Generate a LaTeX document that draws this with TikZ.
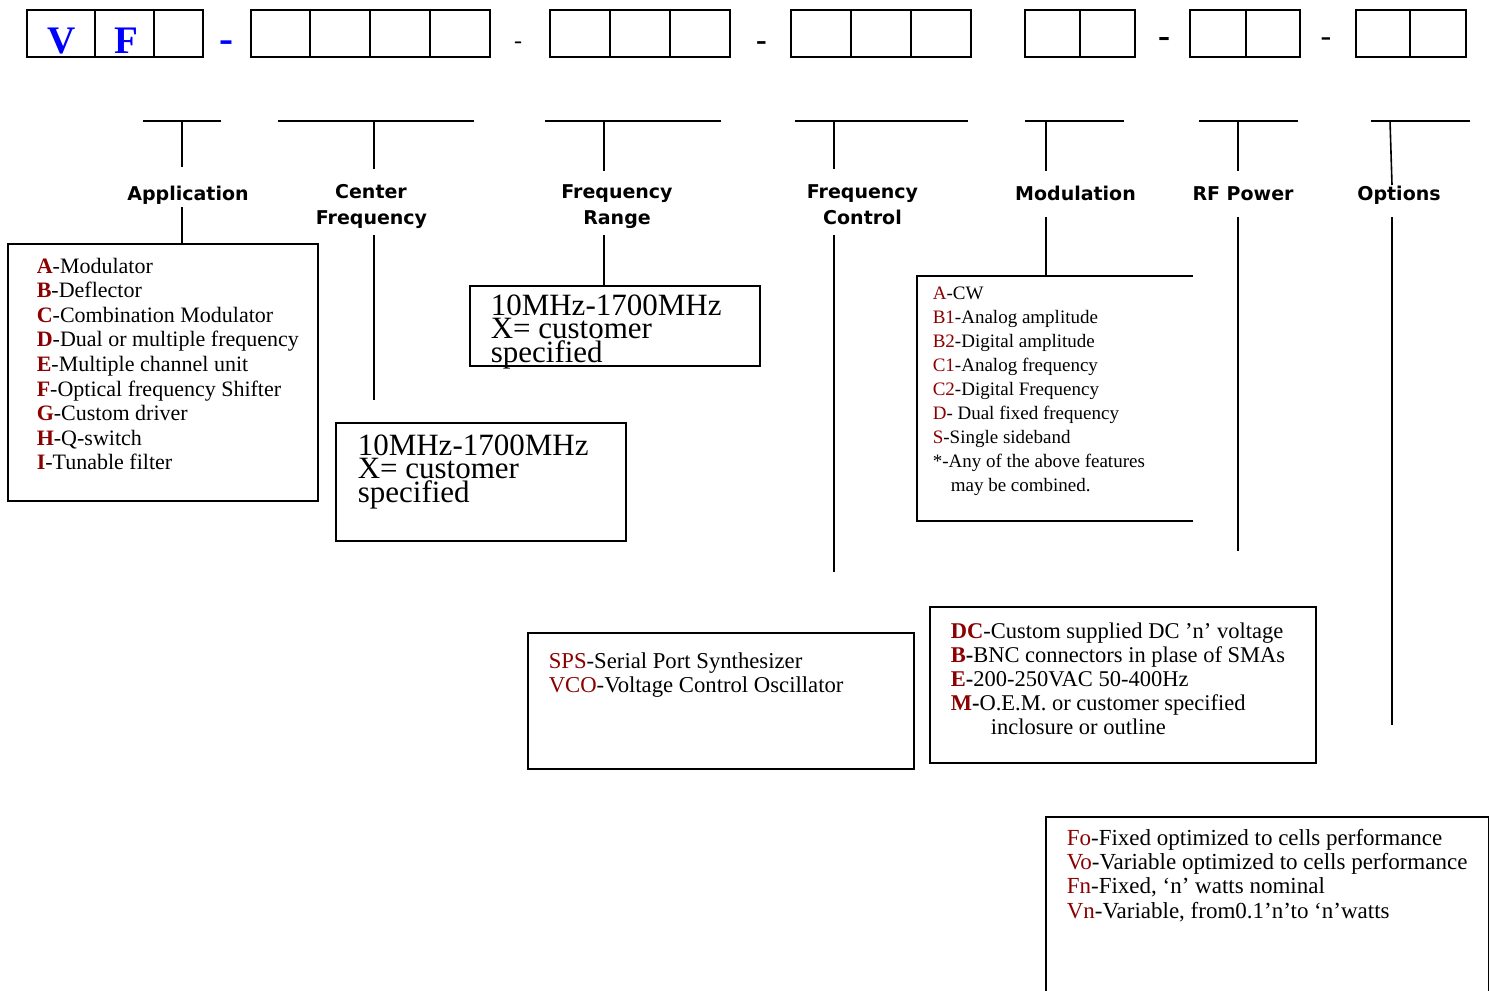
\documentclass[tikz,border=0pt]{standalone}
\usepackage{fontspec}
\setmainfont{Liberation Serif}
\newfontfamily\labfont{DejaVu Sans}
\definecolor{darkred}{RGB}{139,0,0}
\definecolor{vfblue}{RGB}{0,0,255}
\begin{document}
\begin{tikzpicture}[x=1pt,y=-1pt,line width=1.6pt,
  lab/.style={font=\labfont\bfseries\fontsize{19}{25}\selectfont,anchor=base,inner sep=0pt},
  appt/.style={font=\fontsize{22}{24}\selectfont,anchor=base west,inner sep=0pt},
  optt/.style={font=\fontsize{22.5}{24}\selectfont,anchor=base west,inner sep=0pt},
  spst/.style={font=\fontsize{22.7}{24}\selectfont,anchor=base west,inner sep=0pt},
  rft/.style={font=\fontsize{23}{24}\selectfont,anchor=base west,inner sep=0pt},
  modt/.style={font=\fontsize{19}{24}\selectfont,anchor=base west,inner sep=0pt},
  bigt/.style={font=\fontsize{31}{24}\selectfont,anchor=base west,inner sep=0pt},
  box/.style={draw,rectangle,inner sep=0pt},
  vf/.style={font=\fontsize{39}{40}\selectfont\bfseries,text=vfblue,anchor=base,inner sep=0pt},
  hyph/.style={anchor=base,inner sep=0pt}]
\useasboundingbox (0,0) rectangle (1490,990);
% ---------- top code row ----------
\draw (27,10) rectangle (203,57) (95,10) -- (95,57) (154,10) -- (154,57);
\draw (251,10) rectangle (490,57) (310,10) -- (310,57) (370,10) -- (370,57) (430,10) -- (430,57);
\draw (550,10) rectangle (730,57) (610,10) -- (610,57) (670,10) -- (670,57);
\draw (791,10) rectangle (971,57) (851,10) -- (851,57) (911,10) -- (911,57);
\draw (1025,10) rectangle (1135,57) (1080,10) -- (1080,57);
\draw (1190,10) rectangle (1300,57) (1246,10) -- (1246,57);
\draw (1356,10) rectangle (1466,57) (1410,10) -- (1410,57);
\node[vf] (V) at (62,53) {V};
\node[vf] (F) at (126,53) {F};
\node[hyph,font=\fontsize{42}{42}\selectfont\bfseries,text=vfblue] (d1) at (226,52.7) {-};
\node[hyph,font=\fontsize{24}{24}\selectfont] (d2) at (518,48.5) {-};
\node[hyph,font=\fontsize{32}{32}\selectfont\bfseries] (d3) at (761.5,50.4) {-};
\node[hyph,font=\fontsize{36}{36}\selectfont\bfseries] (d4) at (1164,47.3) {-};
\node[hyph,font=\fontsize{32}{32}\selectfont] (d5) at (1326,46.4) {-};
% ---------- tee bars ----------
\foreach \n/\l/\r/\s/\e in {1/143/221/182/167,2/278/474/374/169,3/545/721/604/171,4/795/968/834/169,5/1025/1124/1046/171,6/1199/1298/1238/171}{
  \coordinate (bl\n) at (\l,121); \coordinate (br\n) at (\r,121);
  \coordinate (st\n) at (\s,121); \coordinate (se\n) at (\s,\e);
  \draw (bl\n) -- (br\n);
  \draw (st\n) -- (se\n);
}
\coordinate (bl7) at (1371,121); \coordinate (br7) at (1470,121);
\coordinate (st7) at (1390,121); \coordinate (se7) at (1392,185);
\draw (bl7) -- (br7);
\draw (st7) -- (se7);
% ---------- labels ----------
\node[lab] (lApp) at (188,200.5) {Application};
\node[lab] (lCF1) at (371,198.5) {Center};
\node[lab] (lCF2) at (371.5,224) {Frequency};
\node[lab] (lFR1) at (617,198.5) {Frequency};
\node[lab] (lFR2) at (617,224) {Range};
\node[lab] (lFC1) at (862.5,198.5) {Frequency};
\node[lab] (lFC2) at (862.5,224) {Control};
\node[lab] (lMod) at (1075.5,200.5) {Modulation};
\node[lab] (lRF) at (1243,200.5) {RF Power};
\node[lab] (lOpt) at (1399,200.5) {Options};
% ---------- boxes ----------
\node[box,minimum width=310,minimum height=257] (appbox) at (163,372.5) {};
\node[box,minimum width=290,minimum height=118] (cfbox) at (481,482) {};
\node[box,minimum width=290,minimum height=80] (frbox) at (615,326) {};
\node[box,minimum width=386,minimum height=136] (spsbox) at (721,701) {};
\node[box,minimum width=386,minimum height=156] (optbox) at (1123,685) {};
\draw (1193,276) -- (917,276) -- (917,521) -- (1193,521);
\draw (1046,992) -- (1046,817) -- (1488.5,817) -- (1488.5,992);
% ---------- lower stems ----------
\coordinate (ls1) at (182,207);
\draw (ls1) -- (ls1 |- appbox.north);
\coordinate (ls2) at (374,235); \coordinate (le2) at (374,400);
\draw (ls2) -- (le2);
\coordinate (ls3) at (604,235);
\draw (ls3) -- (ls3 |- frbox.north);
\coordinate (ls4) at (834,235); \coordinate (le4) at (834,572);
\draw (ls4) -- (le4);
\coordinate (ls5) at (1046,217); \coordinate (le5) at (1046,276);
\draw (ls5) -- (le5);
\coordinate (ls6) at (1238,217); \coordinate (le6) at (1238,551);
\draw (ls6) -- (le6);
\coordinate (ls7) at (1392,217); \coordinate (le7) at (1392,725);
\draw (ls7) -- (le7);
% ---------- application text ----------
\foreach \k/\t [count=\i] in {A/Modulator,B/Deflector,C/Combination Modulator,D/Dual or multiple frequency,E/Multiple channel unit,F/Optical frequency Shifter,G/Custom driver,H/Q-switch,I/Tunable filter}{
  \node[appt] (app\i) at (36,{273+24.6*(\i-1)}) {\textcolor{darkred}{\textbf{\k}}-\t};
}
% ---------- big range text ----------
\node[bigt] (fr1) at (490,315) {10MHz-1700MHz};
\node[bigt] (fr2) at (490,338.5) {X= customer};
\node[bigt] (fr3) at (490,362) {specified};
\node[bigt] (cf1) at (357,455) {10MHz-1700MHz};
\node[bigt] (cf2) at (357,478.5) {X= customer};
\node[bigt] (cf3) at (357,502) {specified};
% ---------- modulation text ----------
\foreach \k/\t [count=\i] in {A/-CW,B1/-Analog amplitude,B2/-Digital amplitude,C1/-Analog frequency,C2/-Digital Frequency,D/- Dual fixed frequency,S/-Single sideband}{
  \node[modt] (mod\i) at (932,{299+24.1*(\i-1)}) {\textcolor{darkred}{\k}\t};
}
\node[modt] (mod8) at (932,467.7) {*-Any of the above features};
\node[modt] (mod9) at (950,491.8) {may be combined.};
% ---------- SPS text ----------
\node[spst] (sps1) at (548,668) {\textcolor{darkred}{SPS}-Serial Port Synthesizer};
\node[spst] (sps2) at (548,692) {\textcolor{darkred}{VCO}-Voltage Control Oscillator};
% ---------- options text ----------
\node[optt] (opt1) at (950,638) {\textcolor{darkred}{\textbf{DC}}-Custom supplied DC 'n' voltage};
\node[optt] (opt2) at (950,662) {\textcolor{darkred}{\textbf{B}}\textbf{-}BNC connectors in plase of SMAs};
\node[optt] (opt3) at (950,686) {\textcolor{darkred}{\textbf{E}}\textbf{-}200-250VAC 50-400Hz};
\node[optt] (opt4) at (950,710) {\textcolor{darkred}{\textbf{M}}\textbf{-}O.E.M. or customer specified};
\node[optt] (opt5) at (990,734) {inclosure or outline};
% ---------- RF power text ----------
\foreach \k/\t [count=\i] in {Fo/-Fixed optimized to cells performance,Vo/-Variable optimized to cells performance,Fn/{-Fixed, `n' watts nominal},Vn/{-Variable, from0.1'n'to `n'watts}}{
  \node[rft] (rf\i) at (1066,{845+24.4*(\i-1)}) {\textcolor{darkred}{\k}\t};
}
\end{tikzpicture}
\end{document}
